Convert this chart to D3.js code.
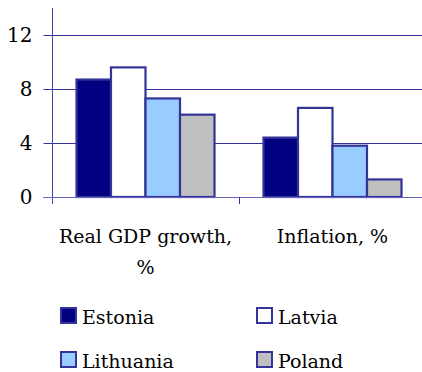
<!DOCTYPE html>
<html>
<head>
<meta charset="utf-8">
<script src="https://cdn.jsdelivr.net/npm/d3@7"></script>
<style>
  html, body { margin: 0; padding: 0; background: #fff; }
  svg { display: block; }
</style>
</head>
<body>
<svg id="chart" width="422" height="372"></svg>
<script>
// Indicators shown on the x axis
const categories = ["Real GDP growth, %", "Inflation, %"];
const categoryLines = [["Real GDP growth,", "%"], ["Inflation, %"]];
// Countries (series) and their fills
const countries = ["Estonia", "Latvia", "Lithuania", "Poland"];
const fills = ["#000080", "#ffffff", "#99ccff", "#c0c0c0"];
// Values per country: [GDP growth, inflation]
const estonia = [8.7, 4.4];
const latvia = [9.6, 6.6];
const lithuania = [7.3, 3.8];
const poland = [6.1, 1.3];
const seriesValues = [estonia, latvia, lithuania, poland];
const yTicks = [0, 4, 8, 12];

const FONT = "'DejaVu Serif', serif";
const FS = 19;
const svg = d3.select("#chart");
const edge = "#333399";

const y = d3.scaleLinear().domain([0, 14]).range([197, 8]);
const x0 = d3.scaleBand().domain(categories).range([52, 426]).paddingInner(0).paddingOuter(0);
const x1 = d3.scaleBand().domain(countries).range([0, x0.bandwidth()]).paddingInner(0).paddingOuter(0.71);

// Horizontal gridlines
svg.append("g").selectAll("line")
  .data(yTicks.filter(d => d > 0))
  .join("line")
  .attr("x1", 52).attr("x2", 426)
  .attr("y1", d => Math.round(y(d)) + 0.5).attr("y2", d => Math.round(y(d)) + 0.5)
  .attr("stroke", edge).attr("stroke-width", 1);

// Bars
const groups = svg.append("g").selectAll("g")
  .data(categories)
  .join("g")
  .attr("transform", d => `translate(${x0(d)},0)`);

groups.selectAll("rect")
  .data((c, ci) => countries.map((k, si) => ({ k, si, v: seriesValues[si][ci] })))
  .join("rect")
  .attr("x", d => x1(d.k))
  .attr("width", x1.bandwidth())
  .attr("y", d => y(d.v))
  .attr("height", d => y(0) - y(d.v))
  .attr("fill", d => fills[d.si])
  .attr("stroke", edge)
  .attr("stroke-width", 2.2);

// Y axis
const yAxis = d3.axisLeft(y).tickValues(yTicks).tickSize(9).tickPadding(11).tickFormat(d3.format("d"));
const gy = svg.append("g").attr("transform", "translate(52.5,0)").call(yAxis);
gy.attr("font-family", FONT).attr("font-size", 20);
gy.select(".domain").remove();
gy.selectAll(".tick line").attr("stroke", edge);
gy.selectAll("text").attr("fill", "#000");
svg.append("line").attr("x1", 52.5).attr("x2", 52.5).attr("y1", 8).attr("y2", 204)
  .attr("stroke", "#4444aa").attr("stroke-width", 1);

// X axis line and category separators
svg.append("line").attr("x1", 43).attr("x2", 426).attr("y1", 197.5).attr("y2", 197.5)
  .attr("stroke", "#6666bb").attr("stroke-width", 1.2);
svg.append("g").selectAll("line")
  .data(categories.slice(1))
  .join("line")
  .attr("x1", d => Math.round(x0(d)) + 0.5).attr("x2", d => Math.round(x0(d)) + 0.5)
  .attr("y1", 197).attr("y2", 204)
  .attr("stroke", edge);

// Category labels
const labels = svg.append("g")
  .attr("font-family", FONT).attr("font-size", FS)
  .selectAll("text")
  .data(categories)
  .join("text")
  .attr("text-anchor", "middle")
  .attr("y", 243);
labels.each(function(d, i) {
  const cx = x0(d) + x0.bandwidth() / 2;
  d3.select(this).selectAll("tspan")
    .data(categoryLines[i])
    .join("tspan")
    .attr("x", cx)
    .attr("dy", (t, j) => j === 0 ? 0 : 31)
    .text(t => t);
});

// Legend
const legendPos = [[60, 324], [256, 324], [60, 368], [256, 368]];
const legend = svg.append("g")
  .attr("font-family", FONT).attr("font-size", FS)
  .selectAll("g")
  .data(countries)
  .join("g")
  .attr("transform", (d, i) => `translate(${legendPos[i][0]},${legendPos[i][1]})`);
legend.append("rect")
  .attr("x", 1).attr("y", -16).attr("width", 15).attr("height", 15)
  .attr("fill", (d, i) => fills[i])
  .attr("stroke", edge).attr("stroke-width", 2);
legend.append("text")
  .attr("x", 22).attr("y", 0)
  .text(d => d);
</script>
</body>
</html>
